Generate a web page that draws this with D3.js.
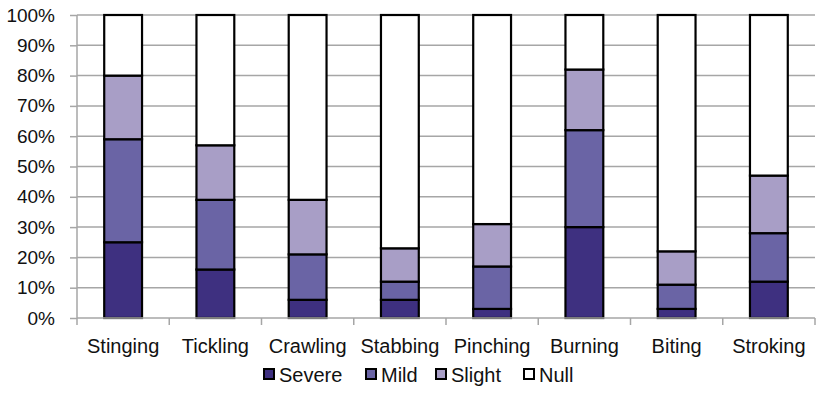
<!DOCTYPE html>
<html>
<head>
<meta charset="utf-8">
<script src="https://cdn.jsdelivr.net/npm/d3@7"></script>
<style>
  body { margin: 0; background: #fff; }
  svg { display: block; font-family: "Liberation Sans", Arial, sans-serif; }
</style>
</head>
<body>
<svg width="824" height="395"></svg>
<script>
// categories + severity shares (percent)
const categories = ['Stinging', 'Tickling', 'Crawling', 'Stabbing', 'Pinching', 'Burning', 'Biting', 'Stroking']
const severe = [25, 16, 6, 6, 3, 30, 3, 12]
const mild   = [34, 23, 15, 6, 14, 32, 8, 16]
const slight = [21, 18, 18, 11, 14, 20, 11, 19]
const nul    = [20, 43, 61, 77, 69, 18, 78, 53]
const seriesNames = ['Severe', 'Mild', 'Slight', 'Null']
const colors = ['#3e3080', '#6a64a5', '#a89ec6', '#ffffff']
const yTicks = [0, 10, 20, 30, 40, 50, 60, 70, 80, 90, 100]

const rows = categories.map((c, i) => ({
  cat: c, Severe: severe[i], Mild: mild[i], Slight: slight[i], Null: nul[i]
}))
const stacked = d3.stack().keys(seriesNames)(rows)

const svg = d3.select('svg')
const plotL = 77, plotR = 815, plotT = 15, plotB = 318

const x = d3.scaleBand().domain(categories).range([plotL, plotR])
  .paddingInner(0.59).paddingOuter(0.295)
const y = d3.scaleLinear().domain([0, 100]).range([plotB, plotT])
const color = d3.scaleOrdinal().domain(seriesNames).range(colors)

// gridlines
svg.append('g').selectAll('line').data(yTicks.filter(d => d > 0)).join('line')
  .attr('x1', plotL).attr('x2', plotR)
  .attr('y1', d => y(d)).attr('y2', d => y(d))
  .attr('stroke', '#a6a6a6').attr('stroke-width', 1.5)

// bars
svg.append('g').selectAll('g').data(stacked).join('g')
  .attr('fill', d => color(d.key))
  .selectAll('rect').data(d => d).join('rect')
  .attr('x', d => x(d.data.cat))
  .attr('width', x.bandwidth())
  .attr('y', d => y(d[1]))
  .attr('height', d => y(d[0]) - y(d[1]))
  .attr('stroke', '#000').attr('stroke-width', 2.2)

// y axis
const yAxis = svg.append('g').attr('transform', `translate(${plotL},0)`)
  .call(d3.axisLeft(y).tickValues(yTicks).tickFormat(d => d + '%').tickSize(7).tickSizeOuter(0))
yAxis.select('.domain').remove()
yAxis.selectAll('.tick line').attr('stroke', '#a6a6a6').attr('stroke-width', 1.5)
yAxis.selectAll('.tick text').attr('x', -22).attr('font-size', 19).attr('fill', '#111')
  .attr('font-family', '"Liberation Sans", Arial, sans-serif')
yAxis.append('line').attr('x1', 0).attr('x2', 0).attr('y1', plotT).attr('y2', plotB + 7)
  .attr('stroke', '#a6a6a6').attr('stroke-width', 1.5)

// x axis
const xAxis = svg.append('g')
xAxis.append('line').attr('x1', plotL).attr('x2', plotR).attr('y1', plotB).attr('y2', plotB)
  .attr('stroke', '#a6a6a6').attr('stroke-width', 1.5)
const bounds = d3.range(categories.length + 1).map(i => plotL + i * x.step())
xAxis.selectAll('.xt').data(bounds.slice(1)).join('line').attr('class', 'xt')
  .attr('x1', d => d).attr('x2', d => d).attr('y1', plotB).attr('y2', plotB + 7)
  .attr('stroke', '#a6a6a6').attr('stroke-width', 1.5)
xAxis.selectAll('text').data(categories).join('text')
  .attr('x', d => x(d) + x.bandwidth() / 2).attr('y', 353)
  .attr('text-anchor', 'middle').attr('font-size', 20).attr('fill', '#111')
  .text(d => d)

// legend
const legendX = [263, 365, 435, 523]
const legend = svg.append('g').selectAll('g').data(seriesNames).join('g')
  .attr('transform', (d, i) => `translate(${legendX[i]},368)`)
legend.append('rect').attr('x', 1).attr('y', 1).attr('width', 10).attr('height', 10)
  .attr('fill', d => color(d)).attr('stroke', '#000').attr('stroke-width', 2)
legend.append('text').attr('x', 16).attr('y', 14).attr('font-size', 20).attr('fill', '#111')
  .text(d => d)
</script>
</body>
</html>
